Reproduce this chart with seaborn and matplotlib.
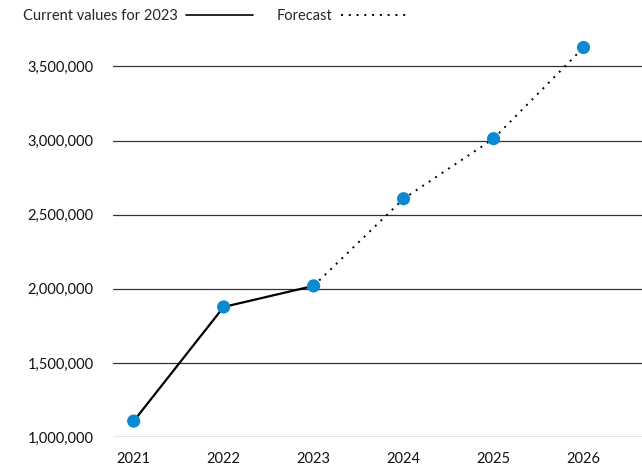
import pandas as pd
import matplotlib
matplotlib.use('Agg')
import matplotlib.pyplot as plt
import seaborn as sns
from matplotlib.lines import Line2D
from matplotlib.ticker import FuncFormatter

# ---- data ----
years = [2021, 2022, 2023, 2024, 2025, 2026]
values = [1108000, 1878000, 2020000, 2608000, 3013000, 3628000]
current_years = [2021, 2022, 2023]
forecast_years = [2023, 2024, 2025, 2026]

df = pd.DataFrame({'Year': years, 'Value': values})
df_cur = df[df['Year'].isin(current_years)]
df_fc = df[df['Year'].isin(forecast_years)]

# ---- style ----
sns.set_style('white')
plt.rcParams['font.family'] = ['Lato', 'DejaVu Sans']
POINT_COLOR = '#0a8ad0'

fig = plt.figure(figsize=(6.42, 4.66), dpi=100)
ax = fig.add_axes([0.176, 0.062, 0.824, 0.859])

sns.lineplot(ax=ax, data=df_cur, x='Year', y='Value', color='black', lw=1.6)
sns.lineplot(ax=ax, data=df_fc, x='Year', y='Value', color='black', lw=1.4, linestyle=(0, (1, 3)))
sns.scatterplot(ax=ax, data=df, x='Year', y='Value', color=POINT_COLOR, s=90, edgecolor='none',
                zorder=5, clip_on=False)

ax.set_xlim(2020.77, 2026.65)
ax.set_ylim(1000000, 3700000)
ax.set_yticks([1000000, 1500000, 2000000, 2500000, 3000000, 3500000])
ax.set_xticks(years)
ax.yaxis.set_major_formatter(FuncFormatter(lambda v, p: f'{int(v):,}'))
ax.grid(axis='y', color='#333333', lw=0.9)
ax.set_axisbelow(True)
for s in ax.spines.values():
    s.set_visible(False)
ax.tick_params(axis='both', length=0, labelsize=10.5, colors='#111111')
ax.tick_params(axis='y', pad=14)
ax.tick_params(axis='x', pad=11)
ax.set_xlabel('')
ax.set_ylabel('')

handles = [Line2D([], [], color='black', lw=1.2),
           Line2D([], [], color='black', lw=1.4, linestyle=(0, (1, 3)))]
fig.legend(handles, ['Current values for 2023', 'Forecast'], loc='upper left',
           bbox_to_anchor=(0.015, 1.008), ncol=2, frameon=False, markerfirst=False,
           handlelength=4.6, handletextpad=0.6, columnspacing=1.6, fontsize=10.5)

plt.savefig('out.png', dpi=100)
